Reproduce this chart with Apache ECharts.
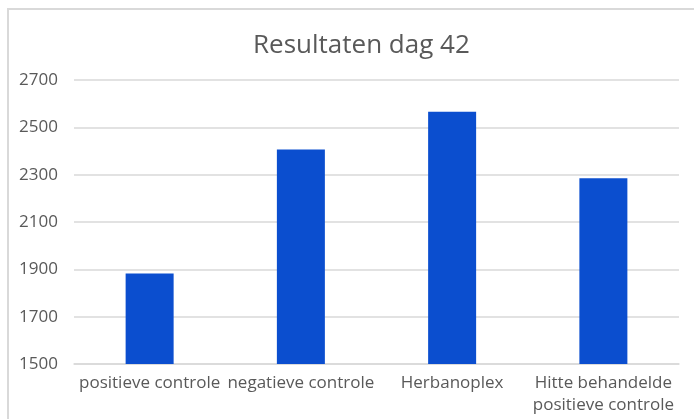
<!DOCTYPE html>
<html>
<head>
<meta charset="utf-8">
<script src="https://cdn.jsdelivr.net/npm/echarts@6/dist/echarts.min.js"></script>
<style>
  html, body { margin: 0; padding: 0; background: #fff; }
  #chart { width: 694px; height: 419px; }
</style>
</head>
<body>
<div id="chart"></div>
<script>
const categories = ['positieve controle', 'negatieve controle', 'Herbanoplex', 'Hitte behandelde\npositieve controle'];
const values = [1882, 2406, 2566, 2285];
const yMin = 1500;
const yMax = 2700;
const yStep = 200;

const chart = echarts.init(document.getElementById('chart'));

const option = {
    animation: false,
    backgroundColor: '#fff',
    textStyle: {
        fontFamily: 'Open Sans'
    },
    title: {
        text: 'Resultaten dag 42',
        left: 248,
        top: 28,
        textStyle: {
            fontFamily: 'Open Sans',
            fontSize: 26,
            fontWeight: 'normal',
            color: '#595959'
        }
    },
    graphic: [
        {
            type: 'rect',
            shape: { x: 8, y: 9, width: 700, height: 430 },
            style: { fill: 'none', stroke: '#d9d9d9', lineWidth: 2 },
            silent: true
        }
    ],
    grid: {
        left: 74,
        right: 15,
        top: 80,
        bottom: 55
    },
    xAxis: {
        type: 'category',
        data: categories,
        axisLine: { lineStyle: { color: '#d9d9d9', width: 1.5 } },
        axisTick: { show: false },
        axisLabel: {
            color: '#595959',
            fontSize: 17,
            margin: 8,
            lineHeight: 22,
            interval: 0
        }
    },
    yAxis: {
        type: 'value',
        min: yMin,
        max: yMax,
        interval: yStep,
        axisLine: { show: false },
        axisTick: { show: false },
        axisLabel: {
            color: '#595959',
            fontSize: 17,
            margin: 16,
            formatter: (v) => String(v)
        },
        splitLine: { lineStyle: { color: '#d9d9d9', width: 1.5 } }
    },
    series: [
        {
            type: 'bar',
            data: values,
            barWidth: 48,
            itemStyle: { color: '#0b4ecf' }
        }
    ]
};

chart.setOption(option);
</script>
</body>
</html>
